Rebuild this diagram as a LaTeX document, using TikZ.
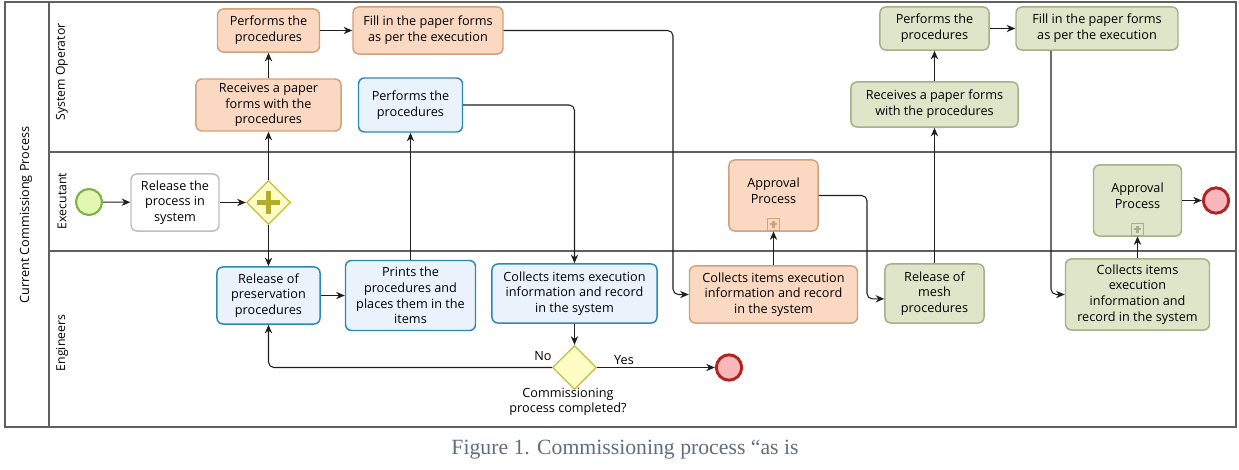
\documentclass[tikz,border=0pt]{standalone}
\usepackage{fontspec}
\setmainfont{Open Sans}
\newfontfamily\capfont{Liberation Serif}
\usetikzlibrary{shapes.geometric,arrows.meta}

\definecolor{orfill}{RGB}{251,216,193}
\definecolor{orline}{RGB}{208,162,124}
\definecolor{blfill}{RGB}{234,242,252}
\definecolor{blline}{RGB}{42,138,180}
\definecolor{grfill}{RGB}{222,229,200}
\definecolor{grline}{RGB}{164,176,136}
\definecolor{whline}{RGB}{190,190,190}
\definecolor{gwfill}{RGB}{255,253,196}
\definecolor{gwline}{RGB}{196,190,60}
\definecolor{gwplus}{RGB}{178,172,44}
\definecolor{stfill}{RGB}{228,247,178}
\definecolor{stline}{RGB}{122,180,66}
\definecolor{enfill}{RGB}{246,184,187}
\definecolor{enline}{RGB}{180,34,34}
\definecolor{poolc}{RGB}{96,96,96}
\definecolor{flowc}{RGB}{30,30,30}
\definecolor{capc}{RGB}{95,110,125}

\begin{document}
\begin{tikzpicture}[x=0.75pt,y=0.75pt,yscale=-1,xscale=1,
  font=\fontsize{9.5}{11.8}\selectfont,
  task/.style={draw, rounded corners=4.5pt, line width=1.1pt, align=center, inner sep=1pt},
  optask/.style={task, draw=orline, fill=orfill},
  bltask/.style={task, draw=blline, fill=blfill},
  grtask/.style={task, draw=grline, fill=grfill},
  whtask/.style={task, draw=whline, fill=white},
  gate/.style={diamond, draw=gwline, fill=gwfill, line width=1pt, minimum width=33pt, minimum height=33pt, inner sep=0pt},
  plusgate/.style={gate, path picture={
      \draw[gwplus, line width=4.4pt] ([xshift=-8.5pt]path picture bounding box.center) -- ([xshift=8.5pt]path picture bounding box.center)
        ([yshift=-8.5pt]path picture bounding box.center) -- ([yshift=8.5pt]path picture bounding box.center);}},
  submark/.style={draw=#1, rectangle, minimum size=9.5pt, inner sep=0pt, line width=0.8pt, path picture={
      \draw[#1, line width=1.6pt] ([xshift=-2.6pt]path picture bounding box.center) -- ([xshift=2.6pt]path picture bounding box.center)
        ([yshift=-2.6pt]path picture bounding box.center) -- ([yshift=2.6pt]path picture bounding box.center);}},
  startev/.style={circle, draw=stline, fill=stfill, line width=1.6pt, minimum size=19.5pt, inner sep=0pt},
  endev/.style={circle, draw=enline, fill=enfill, line width=2.2pt, minimum size=19pt, inner sep=0pt},
  flow/.style={draw=flowc, line width=0.8pt, rounded corners=4pt, -{Stealth[length=6.5pt,width=5.5pt]}},
  lane/.style={rotate=90, font=\fontsize{9.2}{11}\selectfont}
]
\useasboundingbox (0,0) rectangle (1239,470);

%Shape: Pool and lanes
\draw[poolc, line width=1.2pt] (5,2) rectangle (1236,427);
\draw[poolc, line width=1.2pt] (49,2) -- (49,427);
\draw[poolc, line width=1.2pt] (49,152) -- (1236,152);
\draw[poolc, line width=1.2pt] (49,251) -- (1236,251);

% Text Node
\node[lane, font=\fontsize{9.5}{11}\selectfont] (pool) at (26,215) {Current Commissiong Process};
\node[lane] (sysop) at (62,72) {System Operator};
\node[lane] (exec) at (62,201) {Executant};
\node[lane] (eng) at (62,343) {Engineers};

%Shape: System Operator lane
\node[optask, minimum width=76.5pt, minimum height=32.3pt] (perfA) at (268.5,30.5) {Performs the\\procedures};
\node[optask, minimum width=112.5pt, minimum height=35.3pt] (fillA) at (428,30.5) {Fill in the paper forms\\as per the execution};
\node[optask, minimum width=108.8pt, minimum height=39pt] (recvA) at (268.5,105) {Receives a paper\\forms with the\\procedures};
\node[bltask, minimum width=78pt, minimum height=40.5pt] (perfB) at (410.5,105) {Performs the\\procedures};
\node[grtask, minimum width=81.8pt, minimum height=32.3pt] (perfC) at (934.5,28.5) {Performs the\\procedures};
\node[grtask, minimum width=121.5pt, minimum height=32.3pt] (fillC) at (1097,28.5) {Fill in the paper forms\\as per the execution};
\node[grtask, minimum width=125.3pt, minimum height=33.8pt] (recvC) at (934.5,104.5) {Receives a paper forms\\with the procedures};

%Shape: Executant lane
\node[startev] (start) at (89,202) {};
\node[whtask, minimum width=66pt, minimum height=42.8pt] (release) at (175,202.5) {Release the\\process in\\system};
\node[plusgate] (fork) at (268.5,202.5) {};
\node[optask, minimum width=66.8pt, minimum height=53.3pt] (apprA) at (773.5,195.5) {Approval\\Process\\[-5pt]};
\node[submark=orline] (apprAm) at ([yshift=-5.5pt]apprA.south) {};
\node[grtask, minimum width=66pt, minimum height=53.3pt] (apprC) at (1137.5,200.5) {Approval\\Process\\[-5pt]};
\node[submark=grline] (apprCm) at ([yshift=-5.5pt]apprC.south) {};
\node[endev] (endC) at (1216,200.5) {};

%Shape: Engineers lane
\node[bltask, minimum width=77.3pt, minimum height=42.8pt] (relpres) at (268.5,295.5) {Release of\\preservation\\procedures};
\node[bltask, minimum width=97.5pt, minimum height=52.5pt] (prints) at (410.5,295.5) {Prints the\\procedures and\\places them in the\\items};
\node[bltask, minimum width=123.8pt, minimum height=44.3pt] (collB) at (574.5,293.5) {Collects items execution\\information and record\\in the system};
\node[optask, minimum width=126pt, minimum height=42.8pt] (collA) at (773.5,294.5) {Collects items execution\\information and record\\in the system};
\node[grtask, minimum width=74.3pt, minimum height=44.3pt] (relmesh) at (934.5,293.5) {Release of\\mesh\\procedures};
\node[grtask, minimum width=108pt, minimum height=53.3pt] (collC) at (1137.5,294.5) {Collects items\\execution\\information and\\record in the system};
\node[gate] (done) at (574.5,367.5) {};
\node[endev] (endB) at (729,367.5) {};

% Text Node
\node (donelbl) at (568,402) [align=center] {Commissioning\\process completed?};
\node (nolbl) at (543,356) {No};
\node (yeslbl) at (624,360) {Yes};

%Straight Lines
\coordinate (turnA) at (673,0);
\coordinate (turnB) at (867,0);
\coordinate (turnC) at (1051,0);
\draw[flow] (start) -- (release);
\draw[flow] (release) -- (fork);
\draw[flow] (fork) -- (recvA);
\draw[flow] (recvA) -- (perfA);
\draw[flow] (perfA) -- (fillA);
\draw[flow] (fork) -- (relpres);
\draw[flow] (relpres) -- (prints);
\draw[flow] (prints.north) -- (perfB.south);
\draw[flow] (perfB.east) -| (collB.north);
\draw[flow] (collB) -- (done);
\draw[flow] (done.west) -| (relpres.south);
\draw[flow] (done) -- (endB);
\draw[flow] (fillA.east) -- (fillA.east -| turnA) -- (turnA |- collA.west) -- (collA.west);
\draw[flow] (collA) -- (apprAm);
\draw[flow] (apprA.east) -- (apprA.east -| turnB) -- ([yshift=4pt]turnB |- relmesh.west) -- ([yshift=4pt]relmesh.west);
\draw[flow] (relmesh) -- (recvC);
\draw[flow] (recvC) -- (perfC);
\draw[flow] (perfC) -- (fillC);
\draw[flow] (fillC.south -| turnC) -- (turnC |- collC.west) -- (collC.west);
\draw[flow] (collC) -- (apprCm);
\draw[flow] (apprC) -- (endC);

% Text Node
\node[capc, font=\capfont\fontsize{16.3}{19}\selectfont] (caption) at (625,450) {Figure 1. Commissioning process “as is};
\end{tikzpicture}
\end{document}
